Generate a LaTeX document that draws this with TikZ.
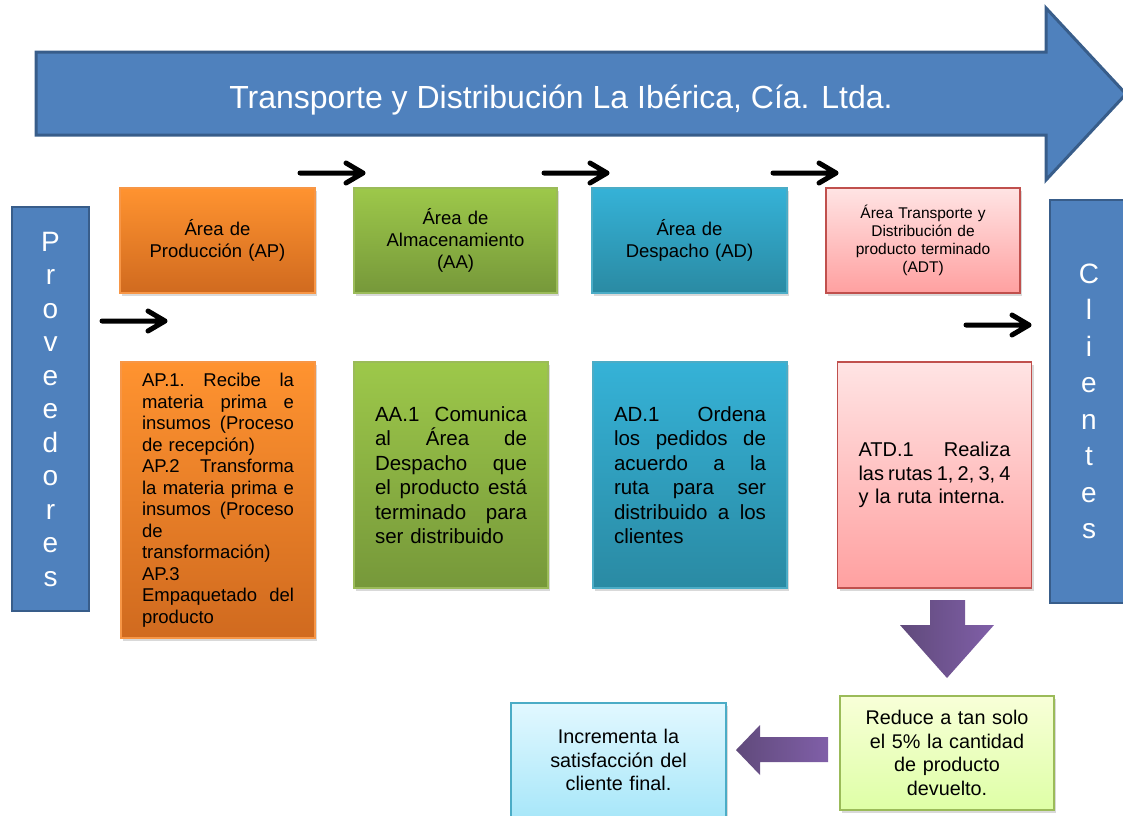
\documentclass[tikz,border=0pt]{standalone}
\usepackage{fontspec}
\setmainfont{Liberation Sans}
\definecolor{titleblue}{RGB}{79, 129, 189}
\definecolor{titleedge}{RGB}{56, 93, 138}
\definecolor{orangetop}{RGB}{255, 147, 48}
\definecolor{orangebot}{RGB}{208, 106, 31}
\definecolor{orangeedge}{RGB}{247, 150, 70}
\definecolor{greentop}{RGB}{157, 200, 74}
\definecolor{greenbot}{RGB}{118, 152, 58}
\definecolor{greenedge}{RGB}{155, 187, 89}
\definecolor{cyantop}{RGB}{53, 178, 215}
\definecolor{cyanbot}{RGB}{42, 138, 163}
\definecolor{cyanedge}{RGB}{75, 172, 198}
\definecolor{pinktop}{RGB}{255, 228, 228}
\definecolor{pinkbot}{RGB}{255, 160, 160}
\definecolor{pinkedge}{RGB}{192, 80, 77}
\definecolor{purpledark}{RGB}{96, 74, 123}
\definecolor{purplelight}{RGB}{128, 95, 168}
\definecolor{limetop}{RGB}{248, 255, 216}
\definecolor{limebot}{RGB}{222, 255, 166}
\definecolor{skytop}{RGB}{226, 248, 255}
\definecolor{skybot}{RGB}{168, 231, 249}
\usetikzlibrary{arrows.meta, shadows, positioning}
\setlength{\parindent}{0pt}
% one justified line: words split by \hfill
\newcommand{\jline}[1]{\leavevmode\hbox to 152pt{#1}}
\newcommand{\fs}[2]{\fontsize{#1}{#2}\selectfont}

\begin{document}
\begin{tikzpicture}[x=1pt, y=-1pt,
  boxshadow/.style={drop shadow={shadow xshift=2pt, shadow yshift=-3pt, opacity=0.3}},
  area/.style={boxshadow, minimum width=195pt, minimum height=105pt, text width=185pt, align=center, inner sep=3pt, line width=1.2pt, font=\fs{18.5}{22}},
  task/.style={boxshadow, text width=152pt, inner xsep=21pt, inner ysep=0pt, minimum height=226pt, align=left, line width=1.2pt, font=\fs{20.5}{24.5}},
  result/.style={boxshadow, minimum width=214pt, minimum height=114pt, text width=200pt, align=center, inner sep=3pt, line width=1.2pt, font=\fs{19.8}{23.5}},
  bar/.style={draw=titleedge, fill=titleblue, line width=2.5pt, text=white, align=center, inner sep=0pt},
  flow/.style={line width=5pt, line cap=round, line join=round},
  block/.style={left color=purpledark, right color=purplelight}
]
  \useasboundingbox (0,0) rectangle (1123,815);

  % Company arrow
  \draw[draw=titleedge, fill=titleblue, line width=3pt] (36,52) -- (1046,52) -- (1046,8) -- (1126,94) -- (1046,180) -- (1046,135) -- (36,135) -- cycle;
  \node[text=white, font=\fs{32}{36}] (title) at (561,100) {Transporte y Distribución La Ibérica, Cía. Ltda.};

  % Suppliers and clients
  \node[bar, minimum width=77pt, minimum height=404pt, font=\fs{28}{33.5}] (prov) at (50.5,409) {P\\r\\o\\v\\e\\e\\d\\o\\r\\e\\s};
  \node[bar, minimum width=78pt, minimum height=403pt, font=\fs{28}{36.5}] (cli) at (1089,401.5) {C\\l\\i\\e\\n\\t\\e\\s};

  % Areas
  \node[area, draw=orangeedge, top color=orangetop, bottom color=orangebot] (ap) at (217.5,240.5) {Área de\\Producción (AP)};
  \node[area, minimum width=203pt, draw=greenedge, top color=greentop, bottom color=greenbot] (aa) at (455.5,240.5) {Área de\\Almacenamiento\\(AA)};
  \node[area, draw=cyanedge, top color=cyantop, bottom color=cyanbot] (ad) at (689.5,240.5) {Área de\\Despacho (AD)};
  \node[area, minimum width=194pt, draw=pinkedge, top color=pinktop, bottom color=pinkbot, font=\fs{15.5}{18}] (adt) at (923,240.5) {Área Transporte y\\Distribución de\\producto terminado\\(ADT)};

  % Activities
  \node[task, minimum height=276pt, draw=orangeedge, top color=orangetop, bottom color=orangebot, font=\fs{18.5}{21.5}] (apx) at (218,500) {
    \jline{AP.1.\hfill Recibe\hfill la}\\\jline{materia\hfill prima\hfill e}\\\jline{insumos\hfill (Proceso}\\de recepción)\\
    \jline{AP.2\hfill Transforma}\\\jline{la\hfill materia\hfill prima\hfill e}\\\jline{insumos\hfill (Proceso}\\de\\transformación)\\
    AP.3\\\jline{Empaquetado\hfill del}\\producto};
  \node[task, draw=greenedge, top color=greentop, bottom color=greenbot] (aax) at (451,475) {
    \jline{AA.1\hfill Comunica}\\\jline{al\hfill Área\hfill de}\\\jline{Despacho\hfill que}\\\jline{el\hfill producto\hfill está}\\\jline{terminado\hfill para}\\ser distribuido};
  \node[task, draw=cyanedge, top color=cyantop, bottom color=cyanbot] (adx) at (690,475) {
    \jline{AD.1\hfill Ordena}\\\jline{los\hfill pedidos\hfill de}\\\jline{acuerdo\hfill a\hfill la}\\\jline{ruta\hfill para\hfill ser}\\\jline{distribuido\hfill a\hfill los}\\clientes};
  \node[task, draw=pinkedge, top color=pinktop, bottom color=pinkbot, font=\fs{20}{23.5}] (atd) at (934.5,475) {
    \jline{ATD.1\hfill Realiza}\\\jline{las\hfill rutas\hfill 1,\hfill 2,\hfill 3,\hfill 4}\\y la ruta interna.};

  % Flow arrows (shaft, then open chevron head)
  \coordinate (f1a) at (300,173); \coordinate (f1b) at (363,173);
  \coordinate (f2a) at (544,173); \coordinate (f2b) at (607,173);
  \coordinate (f3a) at (773,173); \coordinate (f3b) at (836,173);
  \coordinate (f4a) at (102,321); \coordinate (f4b) at (165,321);
  \coordinate (f5a) at (966,325); \coordinate (f5b) at (1029,325);
  \draw[flow] (f1a) -- (f1b) ++(-17,-10) -- (f1b) -- ++(-17,10);
  \draw[flow] (f2a) -- (f2b) ++(-17,-10) -- (f2b) -- ++(-17,10);
  \draw[flow] (f3a) -- (f3b) ++(-17,-10) -- (f3b) -- ++(-17,10);
  \draw[flow] (f4a) -- (f4b) ++(-17,-10) -- (f4b) -- ++(-17,10);
  \draw[flow] (f5a) -- (f5b) ++(-17,-10) -- (f5b) -- ++(-17,10);

  % Results
  \node[result, draw=greenedge, top color=limetop, bottom color=limebot] (reduce) at (947,753) {Reduce a tan solo\\el 5\% la cantidad\\de producto\\devuelto.};
  \node[result, minimum width=215pt, draw=cyanedge, top color=skytop, bottom color=skybot] (satis) at (618.5,760) {Incrementa la\\satisfacción del\\cliente final.};

  \shade[block] (930,600) -- (965,600) -- (965,625) -- (994,625) -- (947,678) -- (900,625) -- (930,625) -- cycle;
  \shade[block] (828,737) -- (760,737) -- (760,725) -- (736,750) -- (760,775) -- (760,762) -- (828,762) -- cycle;
\end{tikzpicture}
\end{document}
